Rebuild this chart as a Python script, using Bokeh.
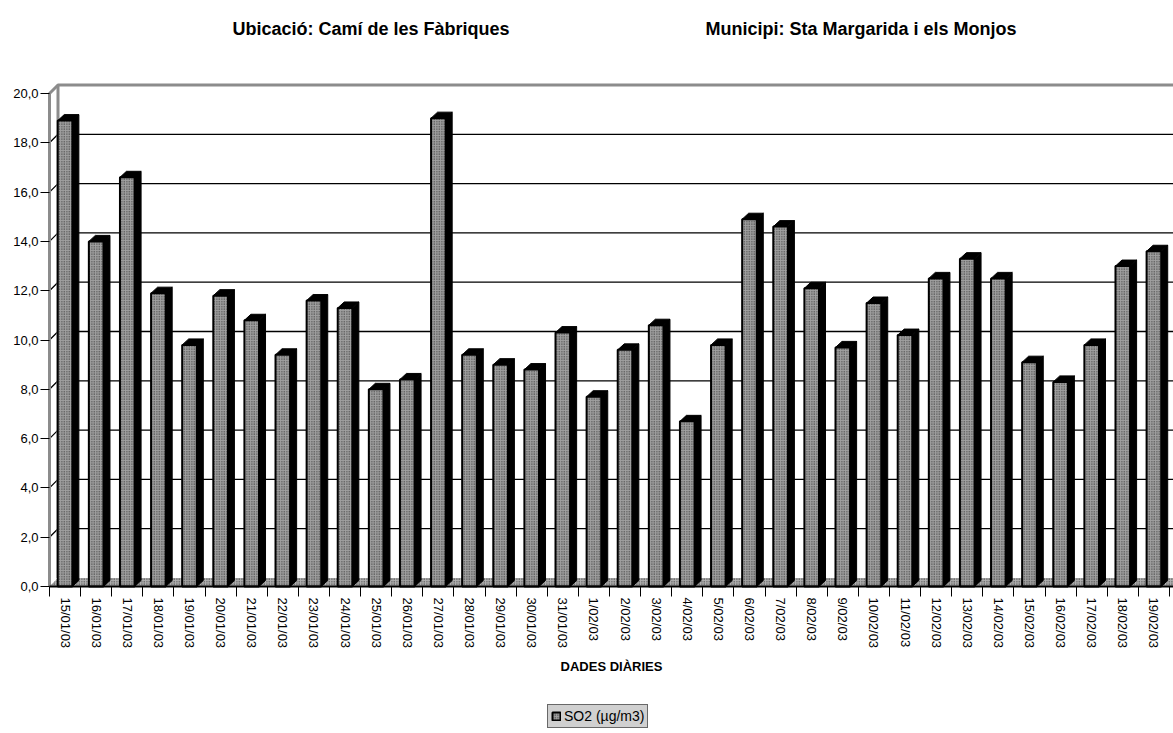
from bokeh.plotting import figure
from bokeh.models import Range1d, FixedTicker, Legend, LegendItem, Label
from bokeh.embed import file_html
from bokeh.resources import INLINE

# ---------------- data ----------------
dates = ["15/01/03", "16/01/03", "17/01/03", "18/01/03", "19/01/03", "20/01/03",
         "21/01/03", "22/01/03", "23/01/03", "24/01/03", "25/01/03", "26/01/03",
         "27/01/03", "28/01/03", "29/01/03", "30/01/03", "31/01/03", "1/02/03",
         "2/02/03", "3/02/03", "4/02/03", "5/02/03", "6/02/03", "7/02/03",
         "8/02/03", "9/02/03", "10/02/03", "11/02/03", "12/02/03", "13/02/03",
         "14/02/03", "15/02/03", "16/02/03", "17/02/03", "18/02/03", "19/02/03"]
so2 = [18.9, 14.0, 16.6, 11.9, 9.8, 11.8, 10.8, 9.4, 11.6, 11.3, 8.0, 8.4,
       19.0, 9.4, 9.0, 8.8, 10.3, 7.7, 9.6, 10.6, 6.7, 9.8, 14.9, 14.6,
       12.1, 9.7, 11.5, 10.2, 12.5, 13.3, 12.5, 9.1, 8.3, 9.8, 13.0, 13.6]
y_ticks = [0, 2, 4, 6, 8, 10, 12, 14, 16, 18, 20]
y_tick_labels = ["0,0", "2,0", "4,0", "6,0", "8,0", "10,0", "12,0", "14,0",
                 "16,0", "18,0", "20,0"]
title_left = "Ubicació: Camí de les Fàbriques"
title_right = "Municipi: Sta Margarida i els Monjos"
x_title = "DADES DIÀRIES"
series_name = "SO2 (µg/m3)"

# ---------------- layout ----------------
FONT = "Liberation Sans"
W, H = 1173, 730
AXIS_X, AXIS_Y = 49, 586          # canvas position of the front axes corner
PX_X = 31.11                      # pixels per category
PX_Y = 24.65                      # pixels per unit
n = len(dates)
x_start = -0.5
x_lo = x_start - AXIS_X / PX_X
x_end = x_start + (W - AXIS_X) / PX_X
y_lo = -(H - AXIS_Y) / PX_Y
y_hi = AXIS_Y / PX_Y

wall_dx, wall_dy = 8.5 / PX_X, 8.5 / PX_Y
bar_dx, bar_dy = 6.5 / PX_X, 6.0 / PX_Y
bw = 0.47

p = figure(width=W, height=H, x_range=Range1d(x_lo, x_end),
           y_range=Range1d(y_lo, y_hi), output_backend="svg",
           toolbar_location=None, min_border=0)
p.outline_line_color = None
p.grid.visible = False
p.background_fill_color = "white"
p.border_fill_color = "white"

HATCH = dict(hatch_pattern="dot", hatch_scale=2.5, hatch_color="#2a2a2a",
             hatch_weight=1.0)

# floor
p.patch([x_start, x_end, x_end, x_start + wall_dx], [0, 0, wall_dy, wall_dy],
        fill_color="#b0b0b0", line_color=None, **HATCH)

# back-wall grid lines
inner = y_ticks[1:-1]
p.multi_line([[x_start, x_start + wall_dx, x_end] for _ in inner],
             [[t, t + wall_dy, t + wall_dy] for t in inner],
             line_color="black", line_width=1.3)

# wall edges
top_v = y_ticks[-1]
p.line([x_start, x_start, x_start + wall_dx, x_end],
       [0, top_v, top_v + wall_dy, top_v + wall_dy],
       line_color="#8c8c8c", line_width=3)
p.line([x_start + wall_dx, x_start + wall_dx], [wall_dy, top_v + wall_dy],
       line_color="#8c8c8c", line_width=3)

# bars: side faces, top caps, front faces
xs = list(range(n))
side_x = [[i + bw / 2, i + bw / 2 + bar_dx, i + bw / 2 + bar_dx, i + bw / 2] for i in xs]
side_y = [[0, bar_dy, v + bar_dy, v] for v in so2]
p.patches(side_x, side_y, fill_color="black", line_color="black", line_width=1)
cap_x = [[i - bw / 2, i + bw / 2, i + bw / 2 + bar_dx, i - bw / 2 + bar_dx] for i in xs]
cap_y = [[v, v, v + bar_dy, v + bar_dy] for v in so2]
p.patches(cap_x, cap_y, fill_color="black", line_color="black", line_width=1)
front = p.vbar(x=xs, top=so2, bottom=0, width=bw, fill_color="#a0a0a0",
               line_color="black", line_width=2, **HATCH)

# x axis (drawn at y = 0 inside the canvas)
xa = p.xaxis[0]
xa.fixed_location = 0
xa.bounds = (x_start, x_end)
xa.ticker = FixedTicker(ticks=xs, minor_ticks=[i - 0.5 for i in range(n + 1)])
xa.major_label_overrides = {i: d for i, d in enumerate(dates)}
xa.major_label_orientation = "vertical"
xa.major_tick_out = 0
xa.major_tick_in = 0
xa.minor_tick_out = 10
xa.minor_tick_in = 0
xa.minor_tick_line_color = "black"
xa.axis_line_color = "black"
xa.axis_line_width = 2
xa.major_label_standoff = 1
xa.major_label_text_font = FONT
xa.major_label_text_font_size = "13px"
xa.major_label_text_color = "black"
xa.axis_label = x_title
xa.axis_label_text_font = FONT
xa.axis_label_text_font_size = "13px"
xa.axis_label_text_font_style = "bold"
xa.axis_label_text_color = "black"
xa.axis_label_standoff = 8

# y axis (drawn at the left edge of the category span)
ya = p.yaxis[0]
ya.fixed_location = x_start
ya.ticker = FixedTicker(ticks=y_ticks)
ya.major_label_overrides = dict(zip(y_ticks, y_tick_labels))
ya.bounds = (y_ticks[0], y_ticks[-1])
ya.major_tick_out = 9
ya.major_tick_in = 0
ya.major_tick_line_color = "black"
ya.axis_line_color = None
ya.major_label_standoff = 2
ya.major_label_text_font = FONT
ya.major_label_text_font_size = "13px"
ya.major_label_text_color = "black"

# titles
title_y = (AXIS_Y - 28) / PX_Y
for txt, px in ((title_left, 232), (title_right, 705)):
    p.add_layout(Label(x=x_lo + px / PX_X, y=title_y, text=txt,
                       text_font=FONT, text_font_size="18px",
                       text_font_style="bold", text_baseline="alphabetic",
                       text_color="black"))

# legend
legend = Legend(items=[LegendItem(label=series_name, renderers=[front])],
                location=(547, 2), orientation="horizontal",
                background_fill_color="#d0d0d0", background_fill_alpha=1,
                border_line_color="black", border_line_width=1,
                label_text_font=FONT, label_text_font_size="14px",
                label_text_color="black", glyph_width=10, glyph_height=10,
                padding=3, margin=0, label_standoff=3, label_height=14)
p.add_layout(legend)

open("out.html", "w").write(file_html(p, INLINE))
